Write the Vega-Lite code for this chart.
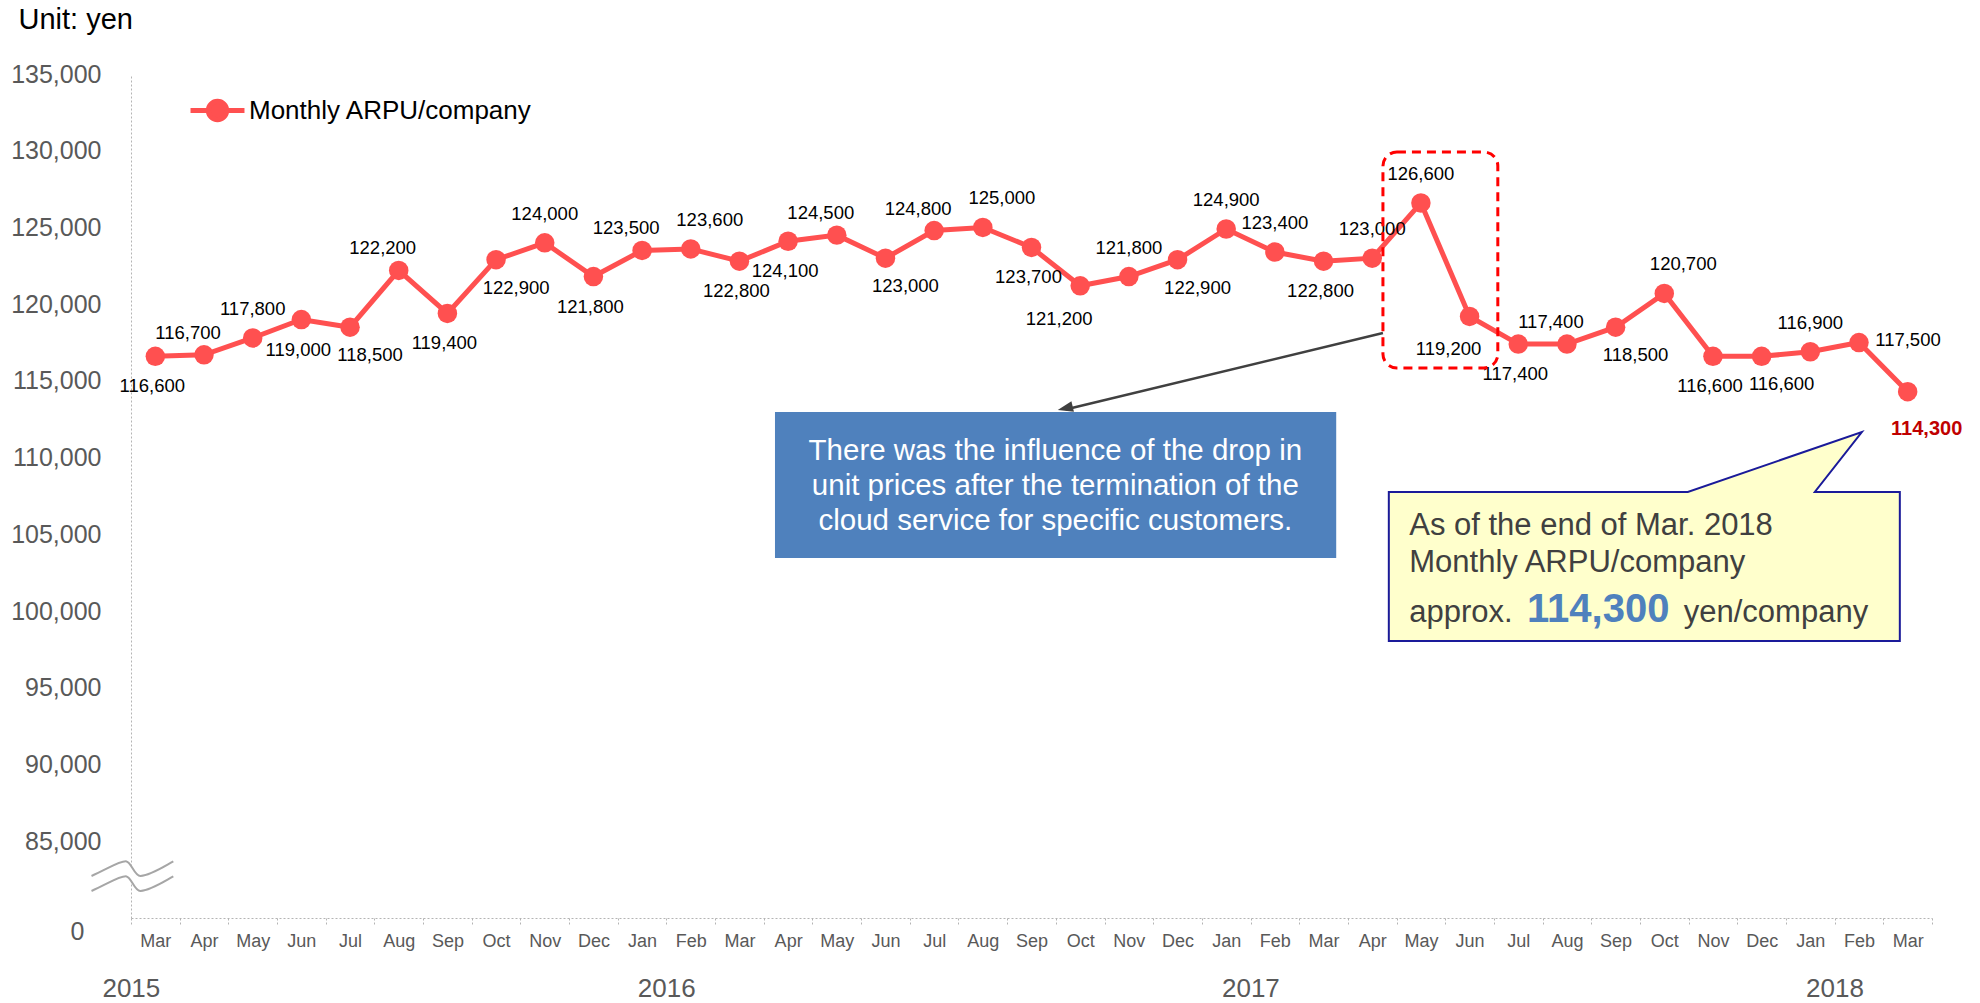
{
  "$schema": "https://vega.github.io/schema/vega-lite/v6.json",
  "width": 1801,
  "height": 844,
  "autosize": {"type": "none"},
  "padding": {"left": 131, "top": 74, "right": 48, "bottom": 85},
  "background": "white",
  "config": {"font": "Liberation Sans", "view": {"stroke": null}},
  "datasets": {
    "arpu": [
      {"period": "Mar 2015", "value": 116600},
      {"period": "Apr 2015", "value": 116700},
      {"period": "May 2015", "value": 117800},
      {"period": "Jun 2015", "value": 119000},
      {"period": "Jul 2015", "value": 118500},
      {"period": "Aug 2015", "value": 122200},
      {"period": "Sep 2015", "value": 119400},
      {"period": "Oct 2015", "value": 122900},
      {"period": "Nov 2015", "value": 124000},
      {"period": "Dec 2015", "value": 121800},
      {"period": "Jan 2016", "value": 123500},
      {"period": "Feb 2016", "value": 123600},
      {"period": "Mar 2016", "value": 122800},
      {"period": "Apr 2016", "value": 124100},
      {"period": "May 2016", "value": 124500},
      {"period": "Jun 2016", "value": 123000},
      {"period": "Jul 2016", "value": 124800},
      {"period": "Aug 2016", "value": 125000},
      {"period": "Sep 2016", "value": 123700},
      {"period": "Oct 2016", "value": 121200},
      {"period": "Nov 2016", "value": 121800},
      {"period": "Dec 2016", "value": 122900},
      {"period": "Jan 2017", "value": 124900},
      {"period": "Feb 2017", "value": 123400},
      {"period": "Mar 2017", "value": 122800},
      {"period": "Apr 2017", "value": 123000},
      {"period": "May 2017", "value": 126600},
      {"period": "Jun 2017", "value": 119200},
      {"period": "Jul 2017", "value": 117400},
      {"period": "Aug 2017", "value": 117400},
      {"period": "Sep 2017", "value": 118500},
      {"period": "Oct 2017", "value": 120700},
      {"period": "Nov 2017", "value": 116600},
      {"period": "Dec 2017", "value": 116600},
      {"period": "Jan 2018", "value": 116900},
      {"period": "Feb 2018", "value": 117500},
      {"period": "Mar 2018", "value": 114300}
    ],
    "years": [
      {"period": "Mar 2015", "year": "2015"},
      {"period": "Feb 2016", "year": "2016"},
      {"period": "Feb 2017", "year": "2017"},
      {"period": "Feb 2018", "year": "2018"}
    ]
  },
  "layer": [
    {
      "data": {"name": "arpu"},
      "encoding": {
        "x": {
          "field": "period",
          "type": "nominal",
          "bandPosition": 0.5,
          "scale": {
            "type": "band",
            "paddingInner": 0,
            "paddingOuter": 0,
            "domain": ["Mar 2015","Apr 2015","May 2015","Jun 2015","Jul 2015","Aug 2015","Sep 2015","Oct 2015","Nov 2015","Dec 2015","Jan 2016","Feb 2016","Mar 2016","Apr 2016","May 2016","Jun 2016","Jul 2016","Aug 2016","Sep 2016","Oct 2016","Nov 2016","Dec 2016","Jan 2017","Feb 2017","Mar 2017","Apr 2017","May 2017","Jun 2017","Jul 2017","Aug 2017","Sep 2017","Oct 2017","Nov 2017","Dec 2017","Jan 2018","Feb 2018","Mar 2018"]
          },
          "axis": {
            "title": null,
            "labelExpr": "datum.value ? split(datum.value, ' ')[0] : ''",
            "labelFontSize": 18,
            "labelColor": "#595959",
            "labelAngle": 0,
            "labelPadding": 8,
            "tickBand": "extent",
            "tickSize": 6,
            "tickColor": "#b4b4b4",
            "tickDash": [2, 2],
            "domainColor": "#b4b4b4",
            "domainDash": [2, 2],
            "grid": false
          }
        },
        "y": {
          "field": "value",
          "type": "quantitative",
          "scale": {"domain": [80000, 135000], "nice": false, "zero": false},
          "axis": {
            "title": "Unit: yen",
            "titleAngle": 0,
            "titleAlign": "left",
            "titleBaseline": "alphabetic",
            "titleX": -113,
            "titleY": -46,
            "titleFontSize": 29,
            "titleFontWeight": "normal",
            "titleColor": "#000000",
            "values": [80000, 85000, 90000, 95000, 100000, 105000, 110000, 115000, 120000, 125000, 130000, 135000],
            "labelExpr": "datum.value == 80000 ? '0' : format(datum.value, ',')",
            "labelFontSize": 25,
            "labelColor": "#595959",
            "labelOffset": {"condition": {"test": "datum.value == 80000", "value": 13}, "value": 0},
            "labelPadding": {"condition": {"test": "datum.value == 80000", "value": 47}, "value": 30},
            "ticks": false,
            "domainColor": "#b4b4b4",
            "domainDash": [2, 2],
            "grid": false
          }
        }
      },
      "layer": [
        {
          "mark": {"type": "line", "strokeWidth": 5},
          "encoding": {
            "color": {
              "datum": "Monthly ARPU/company",
              "type": "nominal",
              "scale": {"range": ["#ff5050"]},
              "legend": {
                "title": null,
                "orient": "none",
                "legendX": 73,
                "legendY": 23,
                "padding": 0,
                "symbolType": "M-2.5,0 L-0.85,0 M0.85,0 L2.5,0 M-0.85,0 A0.85,0.85 0 1,0 0.85,0 A0.85,0.85 0 1,0 -0.85,0 Z",
                "symbolSize": 466,
                "symbolStrokeWidth": 5,
                "labelFontSize": 26,
                "labelColor": "#000000",
                "labelOffset": 18,
                "labelLimit": 600,
                "encode": {
                  "symbols": {
                    "update": {
                      "fill": {"value": "#ff5050"},
                      "stroke": {"value": "#ff5050"},
                      "strokeWidth": {"value": 5},
                      "opacity": {"value": 1}
                    }
                  }
                }
              }
            }
          }
        },
        {
          "mark": {"type": "point", "filled": true, "size": 380, "opacity": 1},
          "encoding": {
            "color": {"datum": "Monthly ARPU/company", "type": "nominal"}
          }
        },
        {
          "transform": [{"filter": {"field": "period", "oneOf": ["May 2015", "Nov 2015", "Nov 2016", "Jan 2017", "Feb 2017", "Apr 2017", "May 2017", "Jan 2018"]}}],
          "mark": {"type": "text", "fontSize": 18.5, "color": "#000000", "baseline": "middle", "dx": 0, "dy": -29},
          "encoding": {"text": {"field": "value", "type": "quantitative", "format": ","}}
        },
        {
          "transform": [{"filter": {"field": "period", "oneOf": ["Apr 2015", "Aug 2015", "Jan 2016", "May 2016", "Jul 2016", "Aug 2017"]}}],
          "mark": {"type": "text", "fontSize": 18.5, "color": "#000000", "baseline": "middle", "dx": -16, "dy": -22},
          "encoding": {"text": {"field": "value", "type": "quantitative", "format": ","}}
        },
        {
          "transform": [{"filter": {"field": "period", "oneOf": ["Feb 2016", "Aug 2016", "Oct 2017"]}}],
          "mark": {"type": "text", "fontSize": 18.5, "color": "#000000", "baseline": "middle", "dx": 19, "dy": -29},
          "encoding": {"text": {"field": "value", "type": "quantitative", "format": ","}}
        },
        {
          "transform": [{"filter": {"field": "period", "oneOf": ["Mar 2015", "Jun 2015", "Sep 2015", "Dec 2015", "Mar 2016", "Apr 2016", "Sep 2016", "Mar 2017", "Jul 2017", "Nov 2017"]}}],
          "mark": {"type": "text", "fontSize": 18.5, "color": "#000000", "baseline": "middle", "dx": -3, "dy": 30},
          "encoding": {"text": {"field": "value", "type": "quantitative", "format": ","}}
        },
        {
          "transform": [{"filter": {"field": "period", "oneOf": ["Jul 2015", "Oct 2015", "Jun 2016", "Dec 2016", "Sep 2017", "Dec 2017"]}}],
          "mark": {"type": "text", "fontSize": 18.5, "color": "#000000", "baseline": "middle", "dx": 20, "dy": 28},
          "encoding": {"text": {"field": "value", "type": "quantitative", "format": ","}}
        },
        {
          "transform": [{"filter": {"field": "period", "oneOf": ["Oct 2016", "Jun 2017"]}}],
          "mark": {"type": "text", "fontSize": 18.5, "color": "#000000", "baseline": "middle", "dx": -21, "dy": 33},
          "encoding": {"text": {"field": "value", "type": "quantitative", "format": ","}}
        },
        {
          "transform": [{"filter": {"field": "period", "oneOf": ["Feb 2018"]}}],
          "mark": {"type": "text", "fontSize": 18.5, "color": "#000000", "baseline": "middle", "dx": 49, "dy": -3},
          "encoding": {"text": {"field": "value", "type": "quantitative", "format": ","}}
        },
        {
          "transform": [{"filter": {"field": "period", "oneOf": ["Mar 2018"]}}],
          "mark": {"type": "text", "fontSize": 20, "fontWeight": "bold", "color": "#c00000", "baseline": "middle", "dx": 19, "dy": 37},
          "encoding": {"text": {"field": "value", "type": "quantitative", "format": ","}}
        }
      ]
    },
    {
      "data": {"name": "years"},
      "mark": {"type": "text", "fontSize": 26, "color": "#595959", "baseline": "middle", "align": "center", "dx": -24, "dy": 71},
      "encoding": {
        "x": {
          "field": "period",
          "type": "nominal",
          "scale": {
            "type": "band",
            "paddingInner": 0,
            "paddingOuter": 0,
            "domain": ["Mar 2015","Apr 2015","May 2015","Jun 2015","Jul 2015","Aug 2015","Sep 2015","Oct 2015","Nov 2015","Dec 2015","Jan 2016","Feb 2016","Mar 2016","Apr 2016","May 2016","Jun 2016","Jul 2016","Aug 2016","Sep 2016","Oct 2016","Nov 2016","Dec 2016","Jan 2017","Feb 2017","Mar 2017","Apr 2017","May 2017","Jun 2017","Jul 2017","Aug 2017","Sep 2017","Oct 2017","Nov 2017","Dec 2017","Jan 2018","Feb 2018","Mar 2018"]
          },
          "axis": null
        },
        "y": {"datum": 80000, "type": "quantitative"},
        "text": {"field": "year", "type": "nominal"}
      }
    },
    {
      "data": {"values": [{}]},
      "layer": [
        {
          "mark": {"type": "point", "shape": "M-2.05,0.0 C-1.2,-0.38 -0.6,-0.78 -0.3,-0.73 C-0.05,-0.68 0.1,0.02 0.4,0.0 C0.9,-0.03 1.5,-0.43 2.04,-0.73 L2.04,0.02 C1.5,0.32 0.9,0.72 0.4,0.75 C0.1,0.77 -0.05,0.07 -0.3,0.02 C-0.6,-0.03 -1.2,0.37 -2.05,0.75 Z", "size": 1600, "filled": true, "color": "white", "opacity": 1, "strokeWidth": 0},
          "encoding": {
            "x": {"datum": -0.469, "type": "quantitative", "scale": {"domain": [-0.5, 36.5], "nice": false, "zero": false}, "axis": null},
            "y": {"datum": 82737, "type": "quantitative"}
          }
        },
        {
          "mark": {"type": "point", "shape": "M-2.05,0.0 C-1.2,-0.38 -0.6,-0.78 -0.3,-0.73 C-0.05,-0.68 0.1,0.02 0.4,0.0 C0.9,-0.03 1.5,-0.43 2.04,-0.73 M-2.05,0.75 C-1.2,0.37 -0.6,-0.03 -0.3,0.02 C-0.05,0.07 0.1,0.77 0.4,0.75 C0.9,0.72 1.5,0.32 2.04,0.02", "size": 1600, "filled": false, "fill": "transparent", "stroke": "#a6a6a6", "strokeWidth": 2, "opacity": 1},
          "encoding": {
            "x": {"datum": -0.469, "type": "quantitative", "scale": {"domain": [-0.5, 36.5], "nice": false, "zero": false}, "axis": null},
            "y": {"datum": 82737, "type": "quantitative"}
          }
        },
        {
          "mark": {"type": "rect", "fill": "transparent", "stroke": "#ff0000", "strokeWidth": 3, "strokeDash": [9, 6], "cornerRadius": 14},
          "encoding": {
            "x": {"datum": 25.22, "type": "quantitative", "scale": {"domain": [-0.5, 36.5], "nice": false, "zero": false}, "axis": null},
            "x2": {"datum": 27.58},
            "y": {"datum": 129917, "type": "quantitative"},
            "y2": {"datum": 115839}
          }
        },
        {
          "mark": {"type": "rule", "color": "#404040", "strokeWidth": 2.5},
          "encoding": {
            "x": {"datum": 25.22, "type": "quantitative", "scale": {"domain": [-0.5, 36.5], "nice": false, "zero": false}, "axis": null},
            "x2": {"datum": 18.7},
            "y": {"datum": 118122, "type": "quantitative"},
            "y2": {"datum": 113140}
          }
        },
        {
          "mark": {"type": "point", "shape": "M0,0 L-0.6,1.7 L0.6,1.7 Z", "size": 324, "filled": true, "color": "#404040", "opacity": 1, "angle": 256.7},
          "encoding": {
            "x": {"datum": 18.54, "type": "quantitative", "scale": {"domain": [-0.5, 36.5], "nice": false, "zero": false}, "axis": null},
            "y": {"datum": 113104, "type": "quantitative"}
          }
        },
        {
          "mark": {"type": "rect", "fill": "#4f81bd"},
          "encoding": {
            "x": {"datum": 12.73, "type": "quantitative", "scale": {"domain": [-0.5, 36.5], "nice": false, "zero": false}, "axis": null},
            "x2": {"datum": 24.26},
            "y": {"datum": 112974, "type": "quantitative"},
            "y2": {"datum": 103460}
          }
        },
        {
          "mark": {"type": "text", "align": "center", "baseline": "middle", "fontSize": 29.5, "lineHeight": 35, "color": "#ffffff"},
          "encoding": {
            "x": {"datum": 18.49, "type": "quantitative", "scale": {"domain": [-0.5, 36.5], "nice": false, "zero": false}, "axis": null},
            "y": {"datum": 110432, "type": "quantitative"},
            "text": {"value": ["There was the influence of the drop in", "unit prices after the termination of the", "cloud service for specific customers."]}
          }
        },
        {
          "mark": {"type": "point", "shape": "M-2.555,-0.745 L0.435,-0.745 L2.175,-1.345 L1.705,-0.745 L2.555,-0.745 L2.555,0.745 L-2.555,0.745 Z", "size": 40000, "filled": true, "fill": "#ffffcc", "stroke": "#1a1a99", "strokeWidth": 2, "opacity": 1},
          "encoding": {
            "x": {"datum": 30.59, "type": "quantitative", "scale": {"domain": [-0.5, 36.5], "nice": false, "zero": false}, "axis": null},
            "y": {"datum": 102906, "type": "quantitative"}
          }
        },
        {
          "mark": {"type": "text", "align": "left", "baseline": "alphabetic", "fontSize": 31, "color": "#404040"},
          "encoding": {
            "x": {"datum": 25.76, "type": "quantitative", "scale": {"domain": [-0.5, 36.5], "nice": false, "zero": false}, "axis": null},
            "y": {"datum": 104958, "type": "quantitative"},
            "text": {"value": "As of the end of Mar. 2018"}
          }
        },
        {
          "mark": {"type": "text", "align": "left", "baseline": "alphabetic", "fontSize": 31, "color": "#404040"},
          "encoding": {
            "x": {"datum": 25.76, "type": "quantitative", "scale": {"domain": [-0.5, 36.5], "nice": false, "zero": false}, "axis": null},
            "y": {"datum": 102547, "type": "quantitative"},
            "text": {"value": "Monthly ARPU/company"}
          }
        },
        {
          "mark": {"type": "text", "align": "left", "baseline": "alphabetic", "fontSize": 31, "color": "#404040"},
          "encoding": {
            "x": {"datum": 25.76, "type": "quantitative", "scale": {"domain": [-0.5, 36.5], "nice": false, "zero": false}, "axis": null},
            "y": {"datum": 99289, "type": "quantitative"},
            "text": {"value": "approx."}
          }
        },
        {
          "mark": {"type": "text", "align": "left", "baseline": "alphabetic", "fontSize": 40, "fontWeight": "bold", "color": "#4f81bd"},
          "encoding": {
            "x": {"datum": 28.18, "type": "quantitative", "scale": {"domain": [-0.5, 36.5], "nice": false, "zero": false}, "axis": null},
            "y": {"datum": 99289, "type": "quantitative"},
            "text": {"value": "114,300"}
          }
        },
        {
          "mark": {"type": "text", "align": "left", "baseline": "alphabetic", "fontSize": 31, "color": "#404040"},
          "encoding": {
            "x": {"datum": 31.4, "type": "quantitative", "scale": {"domain": [-0.5, 36.5], "nice": false, "zero": false}, "axis": null},
            "y": {"datum": 99289, "type": "quantitative"},
            "text": {"value": "yen/company"}
          }
        }
      ]
    }
  ],
  "resolve": {"scale": {"x": "independent"}}
}
